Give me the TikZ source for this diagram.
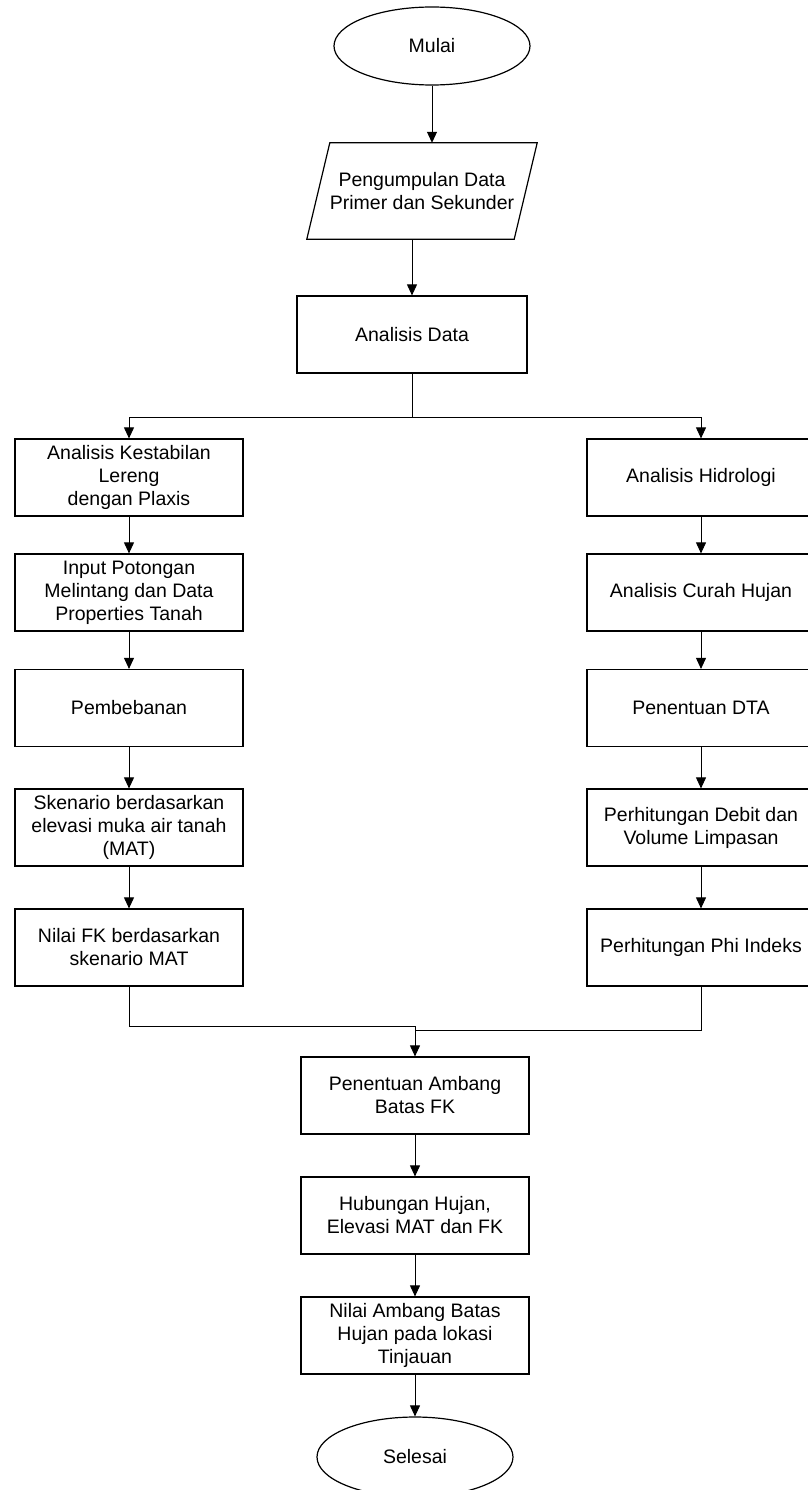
\documentclass[tikz,border=0pt]{standalone}
\usepackage{fontspec}
\setmainfont{Liberation Sans}
\usetikzlibrary{shapes.geometric,arrows.meta}
\begin{document}
\begin{tikzpicture}[x=1pt,y=-1pt,
  every node/.style={font=\fontsize{19.5}{23}\selectfont, align=center, inner sep=0pt},
  box/.style={draw, line width=1.2pt, rectangle, minimum width=228pt, minimum height=77pt},
  term/.style={draw, line width=1.2pt, ellipse, minimum width=196pt, minimum height=78pt},
  arr/.style={line width=0.9pt, -{Triangle[width=10pt,length=11pt]}},
  ln/.style={line width=0.9pt}]
\useasboundingbox (0,0) rectangle (807,1490);
\node[term] (start) at (432,46) {Mulai};
\node[minimum width=207pt, minimum height=96pt] (pg) at (422,191) {Pengumpulan Data\\Primer dan Sekunder};
\draw[line width=1.2pt] ([xshift=11.5pt]pg.north west) -- ([xshift=11.5pt]pg.north east) -- ([xshift=-11.5pt]pg.south east) -- ([xshift=-11.5pt]pg.south west) -- cycle;
\node[box, minimum width=230pt] (ad) at (412,334.5) {Analisis Data};

\node[box] (L1) at (129,477.5) {Analisis Kestabilan\\Lereng\\dengan Plaxis};
\node[box] (L2) at (129,592.5) {Input Potongan\\Melintang dan Data\\Properties Tanah};
\node[box] (L3) at (129,708) {Pembebanan};
\node[box] (L4) at (129,827.5) {Skenario berdasarkan\\elevasi muka air tanah\\(MAT)};
\node[box] (L5) at (129,947.5) {Nilai FK berdasarkan\\skenario MAT};

\node[box] (R1) at (701,477.5) {Analisis Hidrologi};
\node[box] (R2) at (701,592.5) {Analisis Curah Hujan};
\node[box] (R3) at (701,708) {Penentuan DTA};
\node[box] (R4) at (701,827.5) {Perhitungan Debit dan\\Volume Limpasan};
\node[box] (R5) at (701,947.5) {Perhitungan Phi Indeks};

\node[box] (B1) at (415,1095.5) {Penentuan Ambang\\Batas FK};
\node[box] (B2) at (415,1215.5) {Hubungan Hujan,\\Elevasi MAT dan FK};
\node[box] (B3) at (415,1335.5) {Nilai Ambang Batas\\Hujan pada lokasi\\Tinjauan};
\node[term, minimum height=80pt] (end) at (415,1457) {Selesai};

\draw[arr] (start.south) -- (start.south |- pg.north);
\draw[arr] (pg.south -| ad.north) -- (ad.north);
\coordinate (split) at (412,417);
\draw[ln] (ad.south) -- (split);
\draw[arr] (split) -| (L1.north);
\draw[arr] (split) -| (R1.north);
\draw[arr] (L1) -- (L2);
\draw[arr] (L2) -- (L3);
\draw[arr] (L3) -- (L4);
\draw[arr] (L4) -- (L5);
\draw[arr] (R1) -- (R2);
\draw[arr] (R2) -- (R3);
\draw[arr] (R3) -- (R4);
\draw[arr] (R4) -- (R5);
\coordinate (mL) at (415,1026);
\coordinate (mR) at (415,1030);
\draw[ln] (L5.south) |- (mL);
\draw[ln] (R5.south) |- (mR);
\draw[arr] (mL) -- (B1.north);
\draw[arr] (B1) -- (B2);
\draw[arr] (B2) -- (B3);
\draw[arr] (B3) -- (end);
\end{tikzpicture}
\end{document}
